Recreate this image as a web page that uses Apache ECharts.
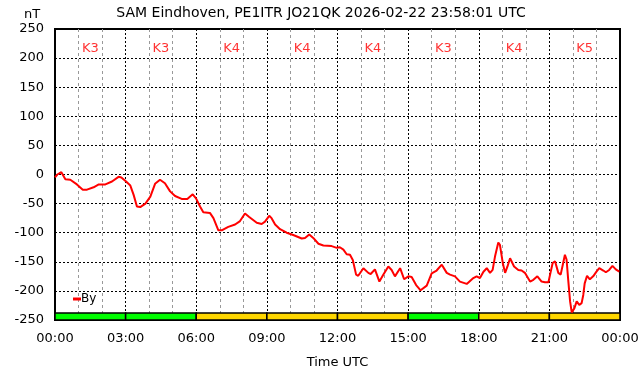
<!DOCTYPE html>
<html>
<head>
<meta charset="utf-8">
<script src="https://cdn.jsdelivr.net/npm/echarts@6/dist/echarts.min.js"></script>
<style>
  html, body { margin: 0; padding: 0; background: #fff; }
  #chart { width: 642px; height: 376px; }
</style>
</head>
<body>
<div id="chart"></div>
<script>
// By component, hours since 00:00 UTC and nT
const hours = [
  0.0, 0.1, 0.27, 0.44, 0.65, 0.93, 1.18, 1.36, 1.64, 1.86, 2.14, 2.42, 2.7, 2.82,
  3.02, 3.2, 3.34, 3.48, 3.62, 3.84, 4.05, 4.25, 4.46, 4.67, 4.89, 5.1, 5.38, 5.62,
  5.85, 5.99, 6.16, 6.3, 6.58, 6.73, 6.94, 7.08, 7.36, 7.65, 7.86, 8.07, 8.25, 8.57,
  8.78, 8.92, 9.1, 9.2, 9.35, 9.56, 9.84, 10.12, 10.48, 10.62, 10.8, 10.97, 11.19,
  11.4, 11.75, 11.97, 12.1, 12.25, 12.39, 12.53, 12.65, 12.79, 12.88, 13.1, 13.31,
  13.41, 13.59, 13.78, 13.95, 14.16, 14.3, 14.44, 14.66, 14.83, 15.01, 15.15, 15.34,
  15.53, 15.79, 16.0, 16.21, 16.43, 16.64, 16.78, 16.99, 17.2, 17.49, 17.56, 17.77,
  17.91, 18.05, 18.2, 18.34, 18.48, 18.59, 18.69, 18.83, 18.9, 19.02, 19.12, 19.22,
  19.33, 19.5, 19.68, 19.82, 19.96, 20.18, 20.32, 20.49, 20.67, 20.81, 20.96, 21.03,
  21.14, 21.24, 21.38, 21.48, 21.57, 21.66, 21.73, 21.8, 21.88, 21.95, 22.06, 22.16,
  22.27, 22.37, 22.44, 22.5, 22.6, 22.72, 22.86, 23.0, 23.12, 23.29, 23.4, 23.54,
  23.68, 23.82, 23.97, 24.0
]
const byValues = [
  -5, 0, 4, -8, -9, -17, -26, -26, -22, -17, -17, -12, -4, -5,
  -12, -19, -35, -55, -56, -50, -38, -16, -9, -15, -29, -37, -42, -42,
  -34, -41, -55, -65, -66, -75, -96, -96, -90, -86, -80, -67, -73, -83,
  -85, -81, -71, -75, -86, -94, -100, -104, -110, -109, -103, -109, -119,
  -122, -123, -126, -125, -129, -137, -138, -147, -172, -174, -161, -169,
  -171, -163, -184, -172, -158, -164, -175, -161, -180, -175, -176, -190,
  -199, -191, -170, -165, -155, -169, -172, -175, -184, -188, -191, -178,
  -175, -178, -167, -161, -169, -164, -141, -117, -121, -152, -169, -158,
  -144, -158, -164, -165, -169, -184, -181, -175, -184, -185, -185, -172,
  -152, -149, -169, -172, -155, -138, -146, -181, -218, -237, -230, -218,
  -224, -221, -207, -187, -174, -180, -175, -167, -161, -165, -168, -164,
  -157, -163, -167, -167
]

// 3-hourly K index
const kStart = [0, 3, 6, 9, 12, 15, 18, 21]
const kIndex = [3, 3, 4, 4, 4, 3, 4, 5]

const yTicks = { min: -250, max: 250, interval: 50 }

const chart = echarts.init(document.getElementById('chart'))

const lineData = hours.map((h, i) => [h, byValues[i]])
const kLabelData = kStart.map((s, i) => [s + 1.5, 217, 'K' + kIndex[i]])
const kAreas = kStart.map((s, i) => [
  {
    xAxis: s,
    yAxis: -250,
    itemStyle: { color: kIndex[i] <= 3 ? '#00ff00' : '#ffd700', borderColor: '#000', borderWidth: 1.5 }
  },
  { xAxis: s + 3, yAxis: -238 }
])

const font = 'DejaVu Sans'

chart.setOption({
  animation: false,
  textStyle: { fontFamily: font },
  title: {
    text: 'SAM Eindhoven, PE1ITR JO21QK 2026-02-22 23:58:01 UTC',
    left: 'center',
    top: 1,
    textStyle: { fontSize: 14, fontWeight: 'normal', color: '#000', fontFamily: font }
  },
  graphic: [
    { type: 'text', left: 24, top: 8, style: { text: 'nT', fontSize: 13, fill: '#000', fontFamily: font } }
  ],
  legend: {
    data: ['By'],
    left: 68,
    top: 288,
    icon: 'rect',
    itemWidth: 8,
    itemHeight: 3,
    itemGap: 2,
    textStyle: { fontSize: 12, color: '#000', padding: [0, 0, 0, -5] }
  },
  grid: { left: 55, right: 22, top: 29, bottom: 56, show: true, borderColor: '#000', borderWidth: 2 },
  xAxis: {
    type: 'value',
    min: 0,
    max: 24,
    interval: 3,
    name: 'Time UTC',
    nameLocation: 'middle',
    nameGap: 36,
    nameTextStyle: { fontSize: 13, color: '#000' },
    axisLine: { show: false },
    axisTick: { show: false },
    axisLabel: {
      fontSize: 13,
      color: '#000',
      margin: 12,
      formatter: (v) => String(v % 24).padStart(2, '0') + ':00'
    },
    splitLine: { show: true, lineStyle: { color: '#000', type: [2, 2], width: 1 } },
    minorTick: { show: false, splitNumber: 3 },
    minorSplitLine: { show: true, lineStyle: { color: '#999', type: [3, 3], width: 1 } }
  },
  yAxis: {
    type: 'value',
    min: yTicks.min,
    max: yTicks.max,
    interval: yTicks.interval,
    axisLine: { show: false },
    axisTick: { show: false },
    axisLabel: { fontSize: 13, color: '#000', margin: 11 },
    splitLine: { show: true, lineStyle: { color: '#000', type: [2, 2], width: 1 } }
  },
  series: [
    {
      name: 'kbar',
      type: 'line',
      data: [],
      markArea: {
        silent: true,
        data: kAreas
      }
    },
    {
      name: 'By',
      type: 'line',
      data: lineData,
      showSymbol: false,
      symbol: 'none',
      lineStyle: { color: '#ff0000', width: 2 },
      itemStyle: { color: '#ff0000' },
      z: 5
    },
    {
      name: 'K',
      type: 'scatter',
      data: kLabelData,
      symbolSize: 0,
      label: {
        show: true,
        position: 'inside',
        formatter: (p) => p.data[2],
        color: '#ff0000',
        fontSize: 13
      }
    }
  ]
})
</script>
</body>
</html>
